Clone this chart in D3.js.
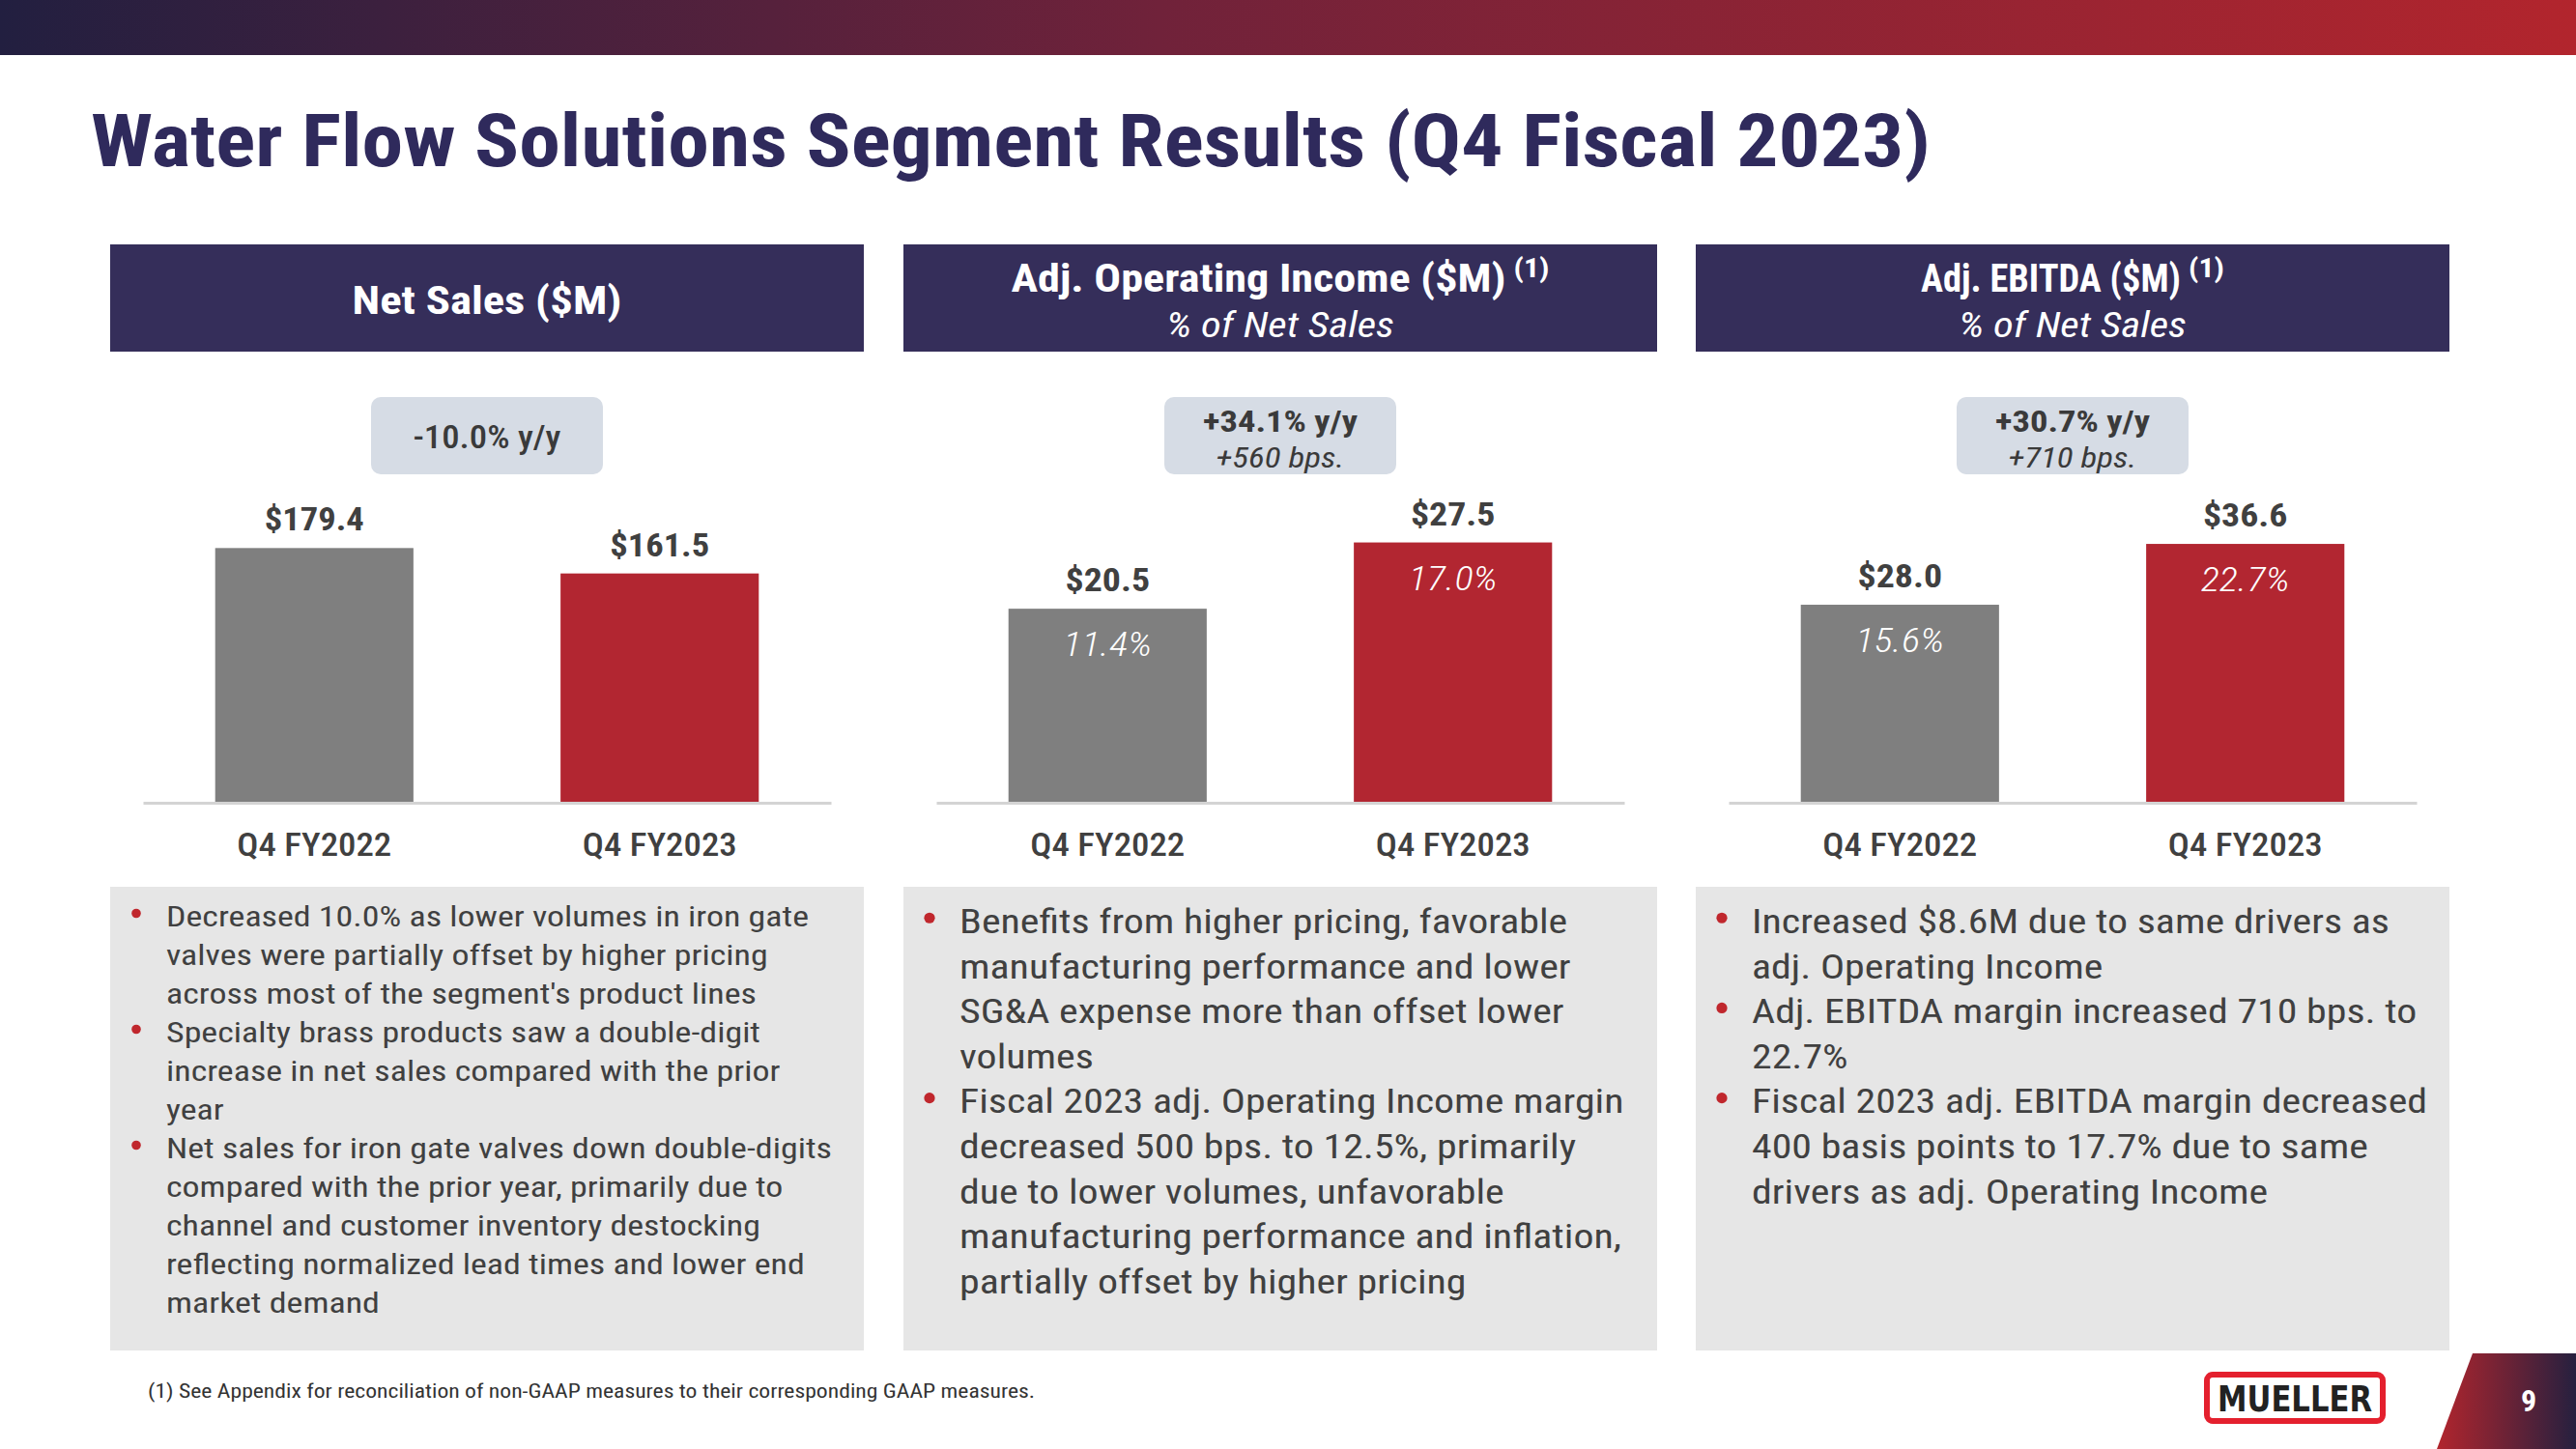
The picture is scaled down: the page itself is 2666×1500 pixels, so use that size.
<!DOCTYPE html>
<html><head><meta charset="utf-8">
<script src="https://cdn.jsdelivr.net/npm/d3@7"></script>
<style>body{margin:0;background:#fff;} svg{display:block}</style>
</head><body><svg id="c" width="2666" height="1500"></svg>
<script>
// ---------------- DATA ----------------
const titleText = "Water Flow Solutions Segment Results (Q4 Fiscal 2023)";
const categories = ["Q4 FY2022", "Q4 FY2023"];
const netSales = [179.4, 161.5];
const adjOpIncome = [20.5, 27.5];
const adjOpMargin = ["11.4%", "17.0%"];
const adjEbitda = [28.0, 36.6];
const adjEbitdaMargin = ["15.6%", "22.7%"];
const panelTitles = ["Net Sales ($M)", "Adj. Operating Income ($M)", "Adj. EBITDA ($M)"];
const panelSubtitles = [null, "% of Net Sales", "% of Net Sales"];
const footnoteMarks = [null, "(1)", "(1)"];
const yoyLabels = ["-10.0% y/y", "+34.1% y/y", "+30.7% y/y"];
const bpsLabels = [null, "+560 bps.", "+710 bps."];
const axisMax = [198, 29.7, 39.75];
const bulletsNetSales = [
  ["Decreased 10.0% as lower volumes in iron gate", "valves were partially offset by higher pricing", "across most of the segment's product lines"],
  ["Specialty brass products saw a double-digit", "increase in net sales compared with the prior", "year"],
  ["Net sales for iron gate valves down double-digits", "compared with the prior year, primarily due to", "channel and customer inventory destocking", "reflecting normalized lead times and lower end", "market demand"]
];
const bulletsOpIncome = [
  ["Benefits from higher pricing, favorable", "manufacturing performance and lower", "SG&A expense more than offset lower", "volumes"],
  ["Fiscal 2023 adj. Operating Income margin", "decreased 500 bps. to 12.5%, primarily", "due to lower volumes, unfavorable", "manufacturing performance and inflation,", "partially offset by higher pricing"]
];
const bulletsEbitda = [
  ["Increased $8.6M due to same drivers as", "adj. Operating Income"],
  ["Adj. EBITDA margin increased 710 bps. to", "22.7%"],
  ["Fiscal 2023 adj. EBITDA margin decreased", "400 basis points to 17.7% due to same", "drivers as adj. Operating Income"]
];
const footnoteText = "(1)  See Appendix for reconciliation of non-GAAP measures to their corresponding GAAP measures.";
const logoText = "MUELLER";
const pageNumber = "9";

// ---------------- DRAW ----------------
const FONT = "'Liberation Sans Narrow','Roboto Condensed','DejaVu Sans Condensed','Liberation Sans',sans-serif";
const svg = d3.select("#c").style("font-family", FONT);
const defs = svg.append("defs");
const g1 = defs.append("linearGradient").attr("id", "topGrad").attr("x1", "0").attr("x2", "1");
g1.append("stop").attr("offset", "0").attr("stop-color", "#221f40");
g1.append("stop").attr("offset", "0.45").attr("stop-color", "#70223a");
g1.append("stop").attr("offset", "1").attr("stop-color", "#b2252d");
const g2 = defs.append("linearGradient").attr("id", "tabGrad").attr("x1", "0").attr("x2", "1");
g2.append("stop").attr("offset", "0").attr("stop-color", "#b2252d");
g2.append("stop").attr("offset", "1").attr("stop-color", "#26203f");

function fit(sel, w) {
  sel.attr("textLength", w).attr("lengthAdjust", "spacingAndGlyphs");
  return sel;
}
function condense(sel, s) {
  sel.each(function () {
    const n = d3.select(this);
    const w = this.getComputedTextLength();
    n.attr("textLength", w * s).attr("lengthAdjust", "spacingAndGlyphs");
  });
  return sel;
}

// top gradient bar
svg.append("rect").attr("x", 0).attr("y", 0).attr("width", 2666).attr("height", 57).attr("fill", "url(#topGrad)");

// title
fit(svg.append("text").attr("x", 94).attr("y", 172).attr("font-size", 76).attr("font-weight", 700)
  .attr("fill", "#2f2a5c").text(titleText), 1904);

// measure condense factor from a reference line
const probe = svg.append("text").attr("font-size", 30).text(bulletsNetSales[0][0]);
const probeW = probe.node().getComputedTextLength();
probe.remove();
const S = 665 / probeW; // horizontal condense factor

const panelX = [114, 935, 1755];
const panelW = 780;
const series = [netSales, adjOpIncome, adjEbitda];
const marginLabels = [null, adjOpMargin, adjEbitdaMargin];
const bulletSets = [bulletsNetSales, bulletsOpIncome, bulletsEbitda];
const titleWidths = [279, 512, 269];
const barColors = ["#7f7f7f", "#b22631"];
const baseY = 831;

panelX.forEach((px, i) => {
  const g = svg.append("g").attr("transform", `translate(${px},0)`);
  const cx = panelW / 2;
  // header
  g.append("rect").attr("x", 0).attr("y", 253).attr("width", panelW).attr("height", 111).attr("fill", "#352e5a");
  if (panelSubtitles[i] === null) {
    fit(g.append("text").attr("x", cx).attr("y", 325).attr("text-anchor", "middle").attr("font-size", 40)
      .attr("font-weight", 700).attr("fill", "#fff").text(panelTitles[i]), titleWidths[i]);
  } else {
    const supW = 37, gap = 8;
    const total = titleWidths[i] + gap + supW;
    const sx = cx - total / 2;
    fit(g.append("text").attr("x", sx).attr("y", 302).attr("font-size", 40).attr("font-weight", 700).attr("fill", "#fff")
      .text(panelTitles[i]), titleWidths[i]);
    fit(g.append("text").attr("x", sx + titleWidths[i] + gap).attr("y", 287).attr("font-size", 28).attr("font-weight", 700).attr("fill", "#fff")
      .text(footnoteMarks[i]), supW);
    fit(g.append("text").attr("x", cx).attr("y", 349).attr("text-anchor", "middle").attr("font-size", 36)
      .attr("font-style", "italic").attr("fill", "#fff").text(panelSubtitles[i]), 236);
  }
  // badge
  g.append("rect").attr("x", cx - 120).attr("y", 411).attr("width", 240).attr("height", 80).attr("rx", 10)
    .attr("fill", "#d6dce5");
  if (bpsLabels[i] === null) {
    fit(g.append("text").attr("x", cx).attr("y", 464).attr("text-anchor", "middle").attr("font-size", 34)
      .attr("font-weight", 500).attr("fill", "#3a3a3a").text(yoyLabels[i]), 153);
  } else {
    fit(g.append("text").attr("x", cx).attr("y", 447).attr("text-anchor", "middle").attr("font-size", 32)
      .attr("font-weight", 700).attr("fill", "#3a3a3a").text(yoyLabels[i]), 160);
    fit(g.append("text").attr("x", cx).attr("y", 484).attr("text-anchor", "middle").attr("font-size", 29)
      .attr("font-style", "italic").attr("fill", "#3a3a3a").text(bpsLabels[i]), 133);
  }
  // chart
  const x = d3.scaleBand().domain(categories).range([34, 746]).paddingInner(0.426).paddingOuter(0.209);
  const y = d3.scaleLinear().domain([0, axisMax[i]]).range([baseY, 540]);
  const vals = series[i];
  g.selectAll("rect.bar").data(vals).join("rect").attr("class", "bar")
    .attr("x", (d, j) => x(categories[j])).attr("width", x.bandwidth())
    .attr("y", d => y(d)).attr("height", d => baseY - y(d))
    .attr("fill", (d, j) => barColors[j]);
  // axis baseline
  const ax = g.append("g").attr("transform", `translate(0,${baseY})`)
    .call(d3.axisBottom(x).tickSize(0).tickPadding(0));
  ax.select(".domain").attr("stroke", "#d4d4d4").attr("stroke-width", 3);
  ax.selectAll(".tick text").attr("font-size", 33).attr("font-family", FONT).attr("fill", "#404040")
    .attr("font-weight", 500).attr("dy", 0).attr("y", 55)
    .each(function () { fit(d3.select(this), 160); });
  // value labels
  g.selectAll("text.val").data(vals).join("text").attr("class", "val")
    .attr("x", (d, j) => x(categories[j]) + x.bandwidth() / 2).attr("y", d => y(d) - 18)
    .attr("text-anchor", "middle").attr("font-size", 34).attr("font-weight", 700).attr("fill", "#404040")
    .text(d => "$" + d3.format(".1f")(d))
    .each(function (d) { fit(d3.select(this), ("$" + d3.format(".1f")(d)).length * 15.5 + 10); });
  if (marginLabels[i]) {
    g.selectAll("text.mrg").data(marginLabels[i]).join("text").attr("class", "mrg")
      .attr("x", (d, j) => x(categories[j]) + x.bandwidth() / 2).attr("y", (d, j) => y(vals[j]) + 49)
      .attr("text-anchor", "middle").attr("font-size", 34).attr("font-style", "italic").attr("font-weight", 300)
      .attr("fill", "#ffffff").text(d => d)
      .each(function () { fit(d3.select(this), 92); });
  }
  // text box
  g.append("rect").attr("x", 0).attr("y", 918).attr("width", panelW).attr("height", 480).attr("fill", "#e6e6e6");
  const fs = i === 0 ? 30 : 35;
  const lh = i === 0 ? 40 : 46.6;
  const y0 = i === 0 ? 959 : 966;
  const tg = g.append("g");
  let line = 0;
  bulletSets[i].forEach(b => {
    tg.append("circle").attr("cx", 27).attr("cy", y0 + line * lh - fs * 0.45).attr("r", fs * 0.16).attr("fill", "#c0272d");
    b.forEach(t => {
      const te = tg.append("text").attr("x", 58).attr("y", y0 + line * lh).attr("font-size", fs).attr("fill", "#404040").text(t);
      condense(te, S);
      line++;
    });
  });
});

// footnote
fit(svg.append("text").attr("x", 153).attr("y", 1447).attr("font-size", 21).attr("fill", "#333").text(footnoteText), 918);

// logo
svg.append("rect").attr("x", 2284).attr("y", 1423).attr("width", 182).attr("height", 48).attr("rx", 6)
  .attr("fill", "#fff").attr("stroke", "#e4202e").attr("stroke-width", 6);
fit(svg.append("text").attr("x", 2375).attr("y", 1461).attr("text-anchor", "middle").attr("font-size", 38)
  .attr("font-family", "'DejaVu Sans',sans-serif").attr("font-weight", 700).attr("fill", "#222").text(logoText), 160);

// page tab
svg.append("polygon").attr("points", "2559,1401 2666,1401 2666,1500 2522,1500").attr("fill", "url(#tabGrad)");
svg.append("text").attr("x", 2617).attr("y", 1461).attr("text-anchor", "middle").attr("font-size", 32)
  .attr("font-weight", 700).attr("fill", "#fff").text(pageNumber);
</script>
</body></html>
